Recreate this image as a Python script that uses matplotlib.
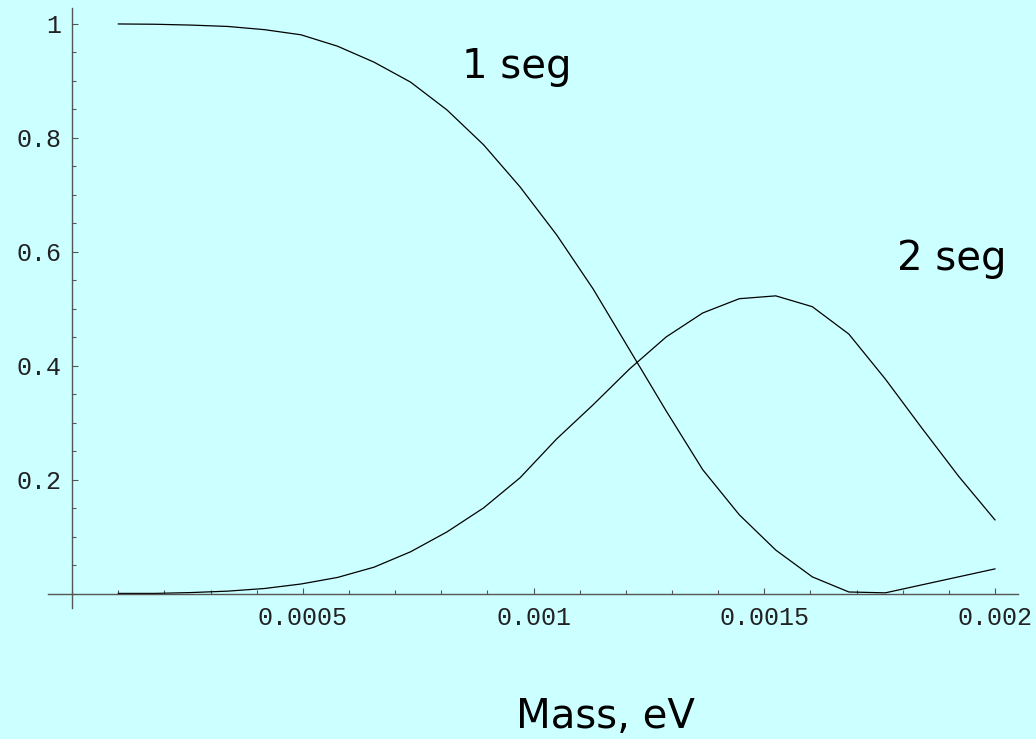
import matplotlib.pyplot as plt
import numpy as np
from matplotlib.ticker import MultipleLocator, FixedLocator

# sampled masses (eV), 25 points from 0.0001 to 0.002
mass = np.linspace(0.0001, 0.002, 25)

one_seg = [1.000, 0.9995, 0.998, 0.9956, 0.990, 0.981, 0.961, 0.933, 0.898,
           0.849, 0.788, 0.714, 0.630, 0.535, 0.428, 0.321, 0.218, 0.139,
           0.077, 0.030, 0.0035, 0.002, 0.016, 0.030, 0.044]

two_seg = [0.001, 0.001, 0.0025, 0.005, 0.0096, 0.0175, 0.029, 0.047, 0.074,
           0.109, 0.151, 0.204, 0.272, 0.332, 0.395, 0.451, 0.493, 0.518,
           0.523, 0.504, 0.456, 0.377, 0.291, 0.207, 0.130]

x_ticks = [0.0005, 0.001, 0.0015, 0.002]
x_labels = ['0.0005', '0.001', '0.0015', '0.002']
y_ticks = [0.2, 0.4, 0.6, 0.8, 1.0]
y_labels = ['0.2', '0.4', '0.6', '0.8', '1']

bg = '#ccffff'
W, H = 1036, 739

fig = plt.figure(figsize=(W / 100, H / 100), dpi=100, facecolor=bg)
ax = fig.add_axes([48 / W, 1 - 608 / H, (1018 - 48) / W, 600 / H])
ax.set_facecolor(bg)

ax.plot(mass, one_seg, color='black', lw=0.9)
ax.plot(mass, two_seg, color='black', lw=0.9)

ax.set_xlim(-0.0000525, 0.00205)
ax.set_ylim(-0.0246, 1.028)

for s in ['top', 'right']:
    ax.spines[s].set_visible(False)
ax.spines['left'].set_position(('data', 0))
ax.spines['bottom'].set_position(('data', 0))
for s in ['left', 'bottom']:
    ax.spines[s].set_color('#555555')
    ax.spines[s].set_linewidth(1.0)

ax.xaxis.set_major_locator(FixedLocator(x_ticks))
ax.xaxis.set_minor_locator(MultipleLocator(0.0001))
ax.yaxis.set_major_locator(FixedLocator(y_ticks))
ax.yaxis.set_minor_locator(MultipleLocator(0.05))
ax.set_xticklabels(x_labels)
ax.set_yticklabels(y_labels)

mono = 'Liberation Mono'
ax.tick_params(which='major', direction='in', length=4.3, width=0.8, color='#555555')
ax.tick_params(which='minor', direction='in', length=2.9, width=0.8, color='#555555')
ax.tick_params(axis='x', which='major', pad=9)
ax.tick_params(axis='y', which='major', pad=8)
for lab in ax.get_xticklabels() + ax.get_yticklabels():
    lab.set_fontfamily(mono)
    lab.set_fontsize(18)
    lab.set_color('#222222')

txt = dict(family='DejaVu Sans', fontsize=29, color='black', va='baseline')
fig.text(462 / W, 1 - 78 / H, '1 seg', ha='left', **txt)
fig.text(897 / W, 1 - 270 / H, '2 seg', ha='left', **txt)
fig.text(605 / W, 1 - 728 / H, 'Mass, eV', ha='center', **txt)

fig.savefig('out.png', dpi=100, facecolor=bg)
